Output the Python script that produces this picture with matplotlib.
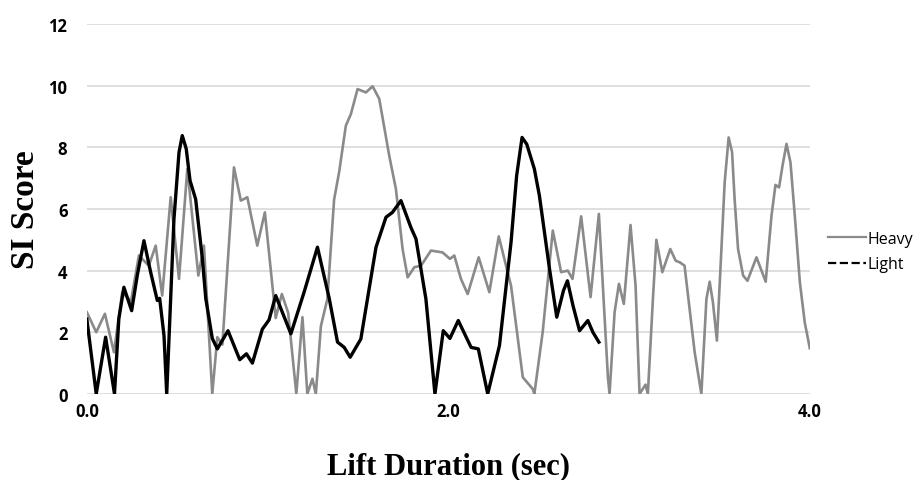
import matplotlib
matplotlib.use('Agg')
import matplotlib.pyplot as plt
from matplotlib.lines import Line2D

# Light lift: time (sec) and SI score
light_t = [0.0, 0.052, 0.104, 0.153, 0.177, 0.205, 0.248, 0.279, 0.316, 0.353,
           0.39, 0.403, 0.427, 0.442, 0.482, 0.51, 0.528, 0.55, 0.571, 0.602,
           0.639, 0.658, 0.694, 0.722, 0.781, 0.846, 0.883, 0.916, 0.971, 1.008,
           1.045, 1.129, 1.202, 1.276, 1.341, 1.387, 1.424, 1.457, 1.516, 1.6,
           1.655, 1.691, 1.738, 1.793, 1.821, 1.876, 1.926, 1.972, 2.009, 2.055,
           2.126, 2.166, 2.218, 2.283, 2.347, 2.378, 2.408, 2.434, 2.476, 2.504,
           2.56, 2.6, 2.637, 2.659, 2.69, 2.726, 2.772, 2.8, 2.833]
light_si = [2.43, 0, 1.84, 0, 2.43, 3.46, 2.7, 3.84, 4.97, 3.95,
            3.03, 3.1, 1.89, 0, 5.67, 7.84, 8.38, 7.95, 6.92, 6.32,
            4.4, 3.1, 1.8, 1.46, 2.05, 1.11, 1.3, 1.0, 2.1, 2.4,
            3.19, 1.95, 3.3, 4.76, 3.1, 1.68, 1.51, 1.19, 1.78, 4.76,
            5.73, 5.89, 6.27, 5.4, 5.03, 3.08, 0, 2.05, 1.8, 2.38,
            1.51, 1.46, 0, 1.57, 4.92, 7.08, 8.32, 8.1, 7.3, 6.43,
            4.05, 2.49, 3.35, 3.67, 2.86, 2.05, 2.38, 2.0, 1.68]

# Heavy lift: time (sec) and SI score
heavy_t = [0.0, 0.052, 0.1, 0.15, 0.196, 0.244, 0.288, 0.343, 0.381, 0.417,
           0.464, 0.51, 0.556, 0.617, 0.648, 0.694, 0.722, 0.75, 0.814, 0.852,
           0.888, 0.943, 0.985, 1.045, 1.079, 1.114, 1.159, 1.193, 1.22, 1.248,
           1.267, 1.295, 1.331, 1.368, 1.396, 1.433, 1.461, 1.498, 1.544, 1.581,
           1.618, 1.673, 1.71, 1.747, 1.775, 1.812, 1.849, 1.904, 1.968, 2.009,
           2.033, 2.07, 2.107, 2.168, 2.227, 2.279, 2.347, 2.412, 2.467, 2.476,
           2.522, 2.578, 2.624, 2.661, 2.687, 2.735, 2.787,
           2.833, 2.855, 2.883, 2.892, 2.92, 2.944, 2.971, 3.008, 3.036, 3.058,
           3.091, 3.104, 3.132, 3.151, 3.184, 3.228, 3.258, 3.28, 3.307, 3.363,
           3.4, 3.428, 3.446, 3.464, 3.486, 3.511, 3.529, 3.551, 3.57, 3.584,
           3.603, 3.631, 3.655, 3.705, 3.756, 3.788, 3.81, 3.83, 3.849, 3.871,
           3.893, 3.917, 3.945, 3.972, 4.0]
heavy_si = [2.65, 2.0, 2.6, 1.35, 3.3, 3.0, 4.49, 4.16, 4.81, 3.19,
            6.38, 3.73, 7.3, 3.84, 4.81, 0, 1.84, 1.6, 7.35, 6.27,
            6.38, 4.81, 5.89, 2.46, 3.24, 2.63, 0, 2.49, 0, 0.49,
            0, 2.2, 3.08, 6.3, 7.2, 8.7, 9.08, 9.89, 9.78, 9.98,
            9.57, 7.73, 6.65, 4.7, 3.78, 4.11, 4.16, 4.65, 4.59, 4.38,
            4.49, 3.73, 3.24, 4.43, 3.3, 5.11, 3.51, 0.54, 0.16, 0,
            2.0, 5.3, 3.95, 4.0, 3.73, 5.76, 3.14,
            5.84, 3.51, 0.54, 0, 2.65, 3.57, 2.92, 5.48, 3.51, 0,
            0.3, 0, 3.08, 5.0, 3.95, 4.7, 4.32, 4.27, 4.16, 1.35,
            0, 3.08, 3.64, 2.97, 1.73, 4.7, 6.86, 8.32, 7.84, 6.32,
            4.7, 3.84, 3.67, 4.43, 3.64, 5.78, 6.78, 6.7, 7.4, 8.11,
            7.51, 5.78, 3.62, 2.32, 1.48]

x_ticks = [0.0, 2.0, 4.0]
x_labels = ['0.0', '2.0', '4.0']
y_ticks = [0, 2, 4, 6, 8, 10, 12]

fig = plt.figure(figsize=(9.14, 4.81), dpi=100)
ax = fig.add_axes([0.095, 0.179, 0.791, 0.769])

ax.plot(heavy_t, heavy_si, color='#8a8a8a', lw=1.9, solid_joinstyle='round')
ax.plot(light_t, light_si, color='black', lw=2.4, solid_joinstyle='round')

ax.set_xlim(0, 4.0)
ax.set_ylim(0, 12)
ax.set_yticks(y_ticks)
ax.set_xticks(x_ticks)
ax.set_xticklabels(x_labels)
ax.grid(axis='y', color='#d9d9d9', lw=1.2)
ax.set_axisbelow(True)
for s in ax.spines.values():
    s.set_visible(False)
ax.tick_params(length=0, labelsize=12, pad=14)
ax.tick_params(axis='x', pad=6)
for lab in ax.get_xticklabels() + ax.get_yticklabels():
    lab.set_fontweight('bold')
    lab.set_family('Open Sans')

ax.set_ylabel('SI Score', family='Liberation Serif', fontsize=24,
              fontweight='bold', labelpad=5)
ax.set_xlabel('Lift Duration (sec)', family='Liberation Serif', fontsize=22,
              fontweight='bold', labelpad=22)

handles = [Line2D([], [], color='#8a8a8a', lw=1.6),
           Line2D([], [], color='black', lw=1.6, ls='--')]
fig.legend(handles, ['Heavy', 'Light'], loc='center left',
           bbox_to_anchor=(0.89, 0.475), frameon=False, handlelength=2.4,
           handletextpad=0.1, labelspacing=0.6,
           prop={'family': 'Open Sans', 'size': 11.5})

fig.savefig('out.png', dpi=100)
